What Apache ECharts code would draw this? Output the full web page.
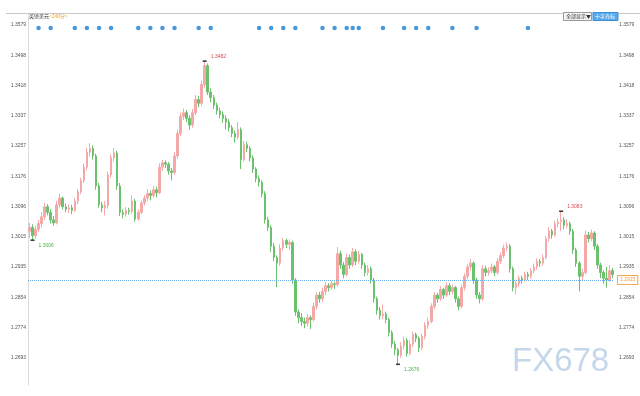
<!DOCTYPE html>
<html><head><meta charset="utf-8">
<script src="https://cdn.jsdelivr.net/npm/echarts@6/dist/echarts.min.js"></script>
<style>html,body{margin:0;padding:0;background:#fff}#c{width:640px;height:396px}</style>
</head><body><div id="c"></div>
<script>
// [open, close, low, high] for each 240-minute bar
const candles = [
[1.3030,1.3040,1.3012,1.3052],[1.3040,1.3018,1.3006,1.3048],[1.3018,1.3035,1.3010,1.3045],[1.3035,1.3050,1.3028,1.3060],
[1.3050,1.3068,1.3040,1.3080],[1.3068,1.3095,1.3060,1.3105],[1.3095,1.3080,1.3072,1.3102],[1.3080,1.3060,1.3050,1.3088],
[1.3060,1.3052,1.3045,1.3070],[1.3052,1.3100,1.3048,1.3110],[1.3100,1.3118,1.3092,1.3130],[1.3118,1.3095,1.3088,1.3122],
[1.3095,1.3088,1.3080,1.3104],[1.3088,1.3092,1.3078,1.3102],[1.3092,1.3085,1.3075,1.3100],[1.3085,1.3110,1.3080,1.3118],
[1.3110,1.3135,1.3102,1.3142],[1.3135,1.3165,1.3128,1.3172],[1.3165,1.3200,1.3158,1.3210],[1.3200,1.3240,1.3192,1.3252],
[1.3240,1.3250,1.3228,1.3264],[1.3250,1.3230,1.3220,1.3258],[1.3230,1.3150,1.3140,1.3236],[1.3150,1.3100,1.3092,1.3158],
[1.3100,1.3092,1.3080,1.3108],[1.3092,1.3098,1.3072,1.3110],[1.3098,1.3180,1.3090,1.3188],[1.3180,1.3225,1.3172,1.3234],
[1.3225,1.3238,1.3215,1.3251],[1.3238,1.3150,1.3140,1.3244],[1.3150,1.3080,1.3070,1.3158],[1.3080,1.3075,1.3064,1.3088],
[1.3075,1.3085,1.3068,1.3094],[1.3085,1.3082,1.3074,1.3092],[1.3082,1.3110,1.3076,1.3125],[1.3110,1.3062,1.3055,1.3116],
[1.3062,1.3080,1.3058,1.3088],[1.3080,1.3105,1.3075,1.3112],[1.3105,1.3118,1.3098,1.3126],[1.3118,1.3130,1.3110,1.3142],
[1.3130,1.3125,1.3112,1.3138],[1.3125,1.3140,1.3118,1.3150],[1.3140,1.3132,1.3120,1.3148],[1.3132,1.3200,1.3128,1.3210],
[1.3200,1.3212,1.3190,1.3220],[1.3212,1.3208,1.3198,1.3218],[1.3208,1.3190,1.3180,1.3214],[1.3190,1.3186,1.3165,1.3198],
[1.3186,1.3230,1.3180,1.3240],[1.3230,1.3290,1.3222,1.3300],[1.3290,1.3335,1.3282,1.3345],[1.3335,1.3345,1.3325,1.3356],
[1.3345,1.3330,1.3320,1.3352],[1.3330,1.3312,1.3300,1.3338],[1.3312,1.3345,1.3305,1.3355],[1.3345,1.3380,1.3338,1.3392],
[1.3380,1.3370,1.3360,1.3390],[1.3370,1.3420,1.3362,1.3430],[1.3420,1.3470,1.3412,1.3482],[1.3470,1.3400,1.3392,1.3476],
[1.3400,1.3385,1.3372,1.3410],[1.3385,1.3365,1.3355,1.3392],[1.3365,1.3350,1.3340,1.3372],[1.3350,1.3340,1.3330,1.3358],
[1.3340,1.3330,1.3318,1.3348],[1.3330,1.3320,1.3300,1.3338],[1.3320,1.3305,1.3295,1.3328],[1.3305,1.3290,1.3280,1.3312],
[1.3290,1.3280,1.3265,1.3298],[1.3280,1.3300,1.3275,1.3320],[1.3300,1.3220,1.3195,1.3306],[1.3220,1.3260,1.3215,1.3270],
[1.3260,1.3250,1.3240,1.3268],[1.3250,1.3225,1.3215,1.3256],[1.3225,1.3195,1.3185,1.3232],[1.3195,1.3170,1.3160,1.3200],
[1.3170,1.3160,1.3148,1.3178],[1.3160,1.3130,1.3120,1.3165],[1.3130,1.3060,1.3050,1.3136],[1.3060,1.3040,1.3030,1.3068],
[1.3040,1.2990,1.2975,1.3046],[1.2990,1.2960,1.2950,1.2998],[1.2960,1.2945,1.2881,1.2966],[1.2945,1.2985,1.2938,1.2995],
[1.2985,1.3005,1.2978,1.3012],[1.3005,1.2995,1.2985,1.3010],[1.2995,1.3000,1.2980,1.3008],[1.3000,1.2900,1.2890,1.3005],
[1.2900,1.2815,1.2805,1.2905],[1.2815,1.2800,1.2785,1.2822],[1.2800,1.2790,1.2778,1.2812],[1.2790,1.2785,1.2772,1.2800],
[1.2785,1.2800,1.2776,1.2810],[1.2800,1.2795,1.2770,1.2806],[1.2795,1.2830,1.2790,1.2840],[1.2830,1.2860,1.2822,1.2868],
[1.2860,1.2850,1.2840,1.2868],[1.2850,1.2870,1.2842,1.2880],[1.2870,1.2885,1.2860,1.2895],[1.2885,1.2880,1.2870,1.2892],
[1.2880,1.2890,1.2874,1.2898],[1.2890,1.2888,1.2876,1.2896],[1.2888,1.2970,1.2882,1.2988],[1.2970,1.2940,1.2930,1.2978],
[1.2940,1.2915,1.2905,1.2948],[1.2915,1.2960,1.2910,1.2970],[1.2960,1.2940,1.2930,1.2968],[1.2940,1.2975,1.2935,1.2985],
[1.2975,1.2950,1.2940,1.2982],[1.2950,1.2968,1.2944,1.2978],[1.2968,1.2940,1.2930,1.2972],[1.2940,1.2920,1.2910,1.2946],
[1.2920,1.2930,1.2912,1.2940],[1.2930,1.2900,1.2890,1.2936],[1.2900,1.2850,1.2840,1.2906],[1.2850,1.2820,1.2808,1.2856],
[1.2820,1.2805,1.2795,1.2828],[1.2805,1.2810,1.2796,1.2835],[1.2810,1.2795,1.2785,1.2816],[1.2795,1.2760,1.2750,1.2800],
[1.2760,1.2730,1.2720,1.2766],[1.2730,1.2715,1.2700,1.2738],[1.2715,1.2700,1.2676,1.2720],[1.2700,1.2725,1.2694,1.2735],
[1.2725,1.2740,1.2715,1.2750],[1.2740,1.2705,1.2696,1.2746],[1.2705,1.2730,1.2700,1.2740],[1.2730,1.2755,1.2722,1.2762],
[1.2755,1.2745,1.2735,1.2760],[1.2745,1.2720,1.2708,1.2750],[1.2720,1.2750,1.2714,1.2758],[1.2750,1.2780,1.2742,1.2788],
[1.2780,1.2790,1.2770,1.2800],[1.2790,1.2830,1.2785,1.2838],[1.2830,1.2860,1.2822,1.2868],[1.2860,1.2850,1.2840,1.2866],
[1.2850,1.2875,1.2845,1.2884],[1.2875,1.2860,1.2850,1.2880],[1.2860,1.2885,1.2855,1.2893],[1.2885,1.2870,1.2860,1.2892],
[1.2870,1.2880,1.2862,1.2888],[1.2880,1.2850,1.2840,1.2884],[1.2850,1.2830,1.2820,1.2856],[1.2830,1.2880,1.2825,1.2888],
[1.2880,1.2910,1.2872,1.2918],[1.2910,1.2935,1.2902,1.2942],[1.2935,1.2945,1.2925,1.2955],[1.2945,1.2900,1.2890,1.2950],
[1.2900,1.2860,1.2850,1.2906],[1.2860,1.2850,1.2838,1.2868],[1.2850,1.2930,1.2845,1.2940],[1.2930,1.2920,1.2910,1.2938],
[1.2920,1.2925,1.2912,1.2934],[1.2925,1.2935,1.2918,1.2944],[1.2935,1.2920,1.2910,1.2940],[1.2920,1.2950,1.2914,1.2958],
[1.2950,1.2965,1.2942,1.2974],[1.2965,1.2985,1.2958,1.2994],[1.2985,1.2990,1.2976,1.3000],[1.2990,1.2930,1.2920,1.2996],
[1.2930,1.2880,1.2870,1.2936],[1.2880,1.2890,1.2862,1.2898],[1.2890,1.2905,1.2882,1.2912],[1.2905,1.2900,1.2890,1.2912],
[1.2900,1.2915,1.2894,1.2922],[1.2915,1.2910,1.2900,1.2922],[1.2910,1.2925,1.2904,1.2932],[1.2925,1.2935,1.2918,1.2944],
[1.2935,1.2950,1.2928,1.2958],[1.2950,1.2945,1.2935,1.2956],[1.2945,1.2960,1.2938,1.2968],[1.2960,1.3010,1.2955,1.3018],
[1.3010,1.3030,1.3002,1.3040],[1.3030,1.3020,1.3010,1.3036],[1.3020,1.3050,1.3015,1.3058],[1.3050,1.3055,1.3040,1.3064],
[1.3055,1.3060,1.3030,1.3083],[1.3060,1.3045,1.3035,1.3068],[1.3045,1.3050,1.3038,1.3062],[1.3050,1.3030,1.3020,1.3056],
[1.3030,1.2980,1.2970,1.3036],[1.2980,1.2945,1.2935,1.2986],[1.2945,1.2910,1.2870,1.2950],[1.2910,1.2920,1.2900,1.2930],
[1.2920,1.3020,1.2915,1.3032],[1.3020,1.3010,1.3000,1.3028],[1.3010,1.3025,1.3004,1.3034],[1.3025,1.2990,1.2980,1.3030],
[1.2990,1.2940,1.2930,1.2996],[1.2940,1.2920,1.2905,1.2946],[1.2920,1.2905,1.2890,1.2926],[1.2905,1.2900,1.2880,1.2935],
[1.2900,1.2925,1.2895,1.2940],[1.2925,1.2915,1.2905,1.2932]
];
const categories = candles.map((_, i) => 'K' + i);
const yTicks = [1.2693,1.2774,1.2854,1.2935,1.3015,1.3096,1.3176,1.3257,1.3337,1.3418,1.3498,1.3579];
const lastPrice = 1.2915;
// extreme-value annotations: [bar index, price, kind]
const extremes = [[58,1.3482,'high'],[1,1.3006,'low'],[122,1.2676,'low'],[176,1.3083,'high']];
// bars that carry an economic-event marker
const eventBars = [3,7,15,19,23,27,36,40,44,48,56,60,76,80,84,88,97,101,105,107,109,117,124,128,132,140,148,165];
const eventLevel = 1.3570;
const title = '英镑美元';
const period = '<240分>';

const UP = '#f5a8a8', DOWN = '#6cc16c';
const chart = echarts.init(document.getElementById('c'), null, {renderer: 'canvas'});
const axisFont = {fontSize: 5, color: '#555', fontFamily: 'Liberation Sans, Arial, sans-serif'};
chart.setOption({
  animation: false,
  grid: {left: 28, right: 26, top: 13, bottom: 11},
  xAxis: {type: 'category', data: categories, show: false, boundaryGap: true},
  yAxis: [
    {type: 'value', min: 1.2621, max: 1.3610, position: 'left',
     axisLine: {show: true, lineStyle: {color: '#cfd6de', type: 'dotted', width: 1}},
     axisTick: {show: false}, splitLine: {show: false},
     axisLabel: Object.assign({customValues: yTicks, margin: 2, formatter: v => v.toFixed(4)}, axisFont)},
    {type: 'value', min: 1.2621, max: 1.3610, position: 'right',
     axisLine: {show: false}, axisTick: {show: false}, splitLine: {show: false},
     axisLabel: Object.assign({customValues: yTicks, margin: 5, formatter: v => v.toFixed(4)}, axisFont)}
  ],
  series: [
    {type: 'candlestick', data: candles, barWidth: 2,
     itemStyle: {color: UP, color0: DOWN, borderColor: UP, borderColor0: DOWN, borderWidth: 1},
     markPoint: {
       symbol: 'rect', symbolSize: [4, 1.5], itemStyle: {color: '#333'},
       data: extremes.map(e => ({coord: [e[0], e[1]], value: e[1],
         label: {show: true, formatter: e[1].toFixed(4), position: 'right', offset: [-1, e[2] === 'high' ? -5 : 5],
           fontSize: 5, color: e[2] === 'high' ? '#e0484d' : '#4caf50', fontFamily: 'Liberation Sans, Arial'}}))
     },
     markLine: {
       symbol: 'none', silent: true,
       lineStyle: {color: '#6aaeea', type: 'dotted', width: 1},
       label: {show: true, position: 'end', distance: 4, formatter: lastPrice.toFixed(4), fontSize: 5,
         color: '#f39c32', backgroundColor: '#fff', borderColor: '#f5a74a', borderWidth: 1, padding: [2, 2, 1, 2],
         fontFamily: 'Liberation Sans, Arial'},
       data: [{yAxis: lastPrice}]
     }},
    {type: 'scatter', data: eventBars.map(i => [i, eventLevel]), symbolSize: 4.5,
     itemStyle: {color: '#1c7ed0'}, silent: true}
  ],
  graphic: [
    {type: 'line', shape: {x1: 6, y1: 13.5, x2: 640, y2: 13.5}, style: {stroke: '#c8c8c8', lineWidth: 1}},
    {type: 'text', left: 29, top: 14, style: {
      text: '{a|' + title + '}{b|' + period + '}',
      rich: {a: {fontSize: 5, fill: '#333', fontFamily: 'Noto Sans CJK SC'}, b: {fontSize: 5, fill: '#f5a623', fontFamily: 'Noto Sans CJK SC'}}}},
    {type: 'rect', shape: {x: 563.5, y: 12.5, width: 28, height: 8}, style: {fill: '#f4f4f4', stroke: '#999', lineWidth: 1}},
    {type: 'text', x: 566, y: 16.5, style: {text: '全部显示▼', fontSize: 5, fill: '#333', verticalAlign: 'middle', fontFamily: 'Noto Sans CJK SC'}},
    {type: 'rect', shape: {x: 593, y: 12.5, width: 25, height: 8}, style: {fill: '#5aa9ea', stroke: '#3d8fd6', lineWidth: 1}},
    {type: 'text', x: 595, y: 16.5, style: {text: '十字光标', fontSize: 5, fill: '#fff', verticalAlign: 'middle', fontFamily: 'Noto Sans CJK SC'}},
    {type: 'text', x: 512, y: 345, style: {text: 'FX678', fontSize: 33, fill: '#c6d7eb', fontFamily: 'Liberation Sans, Arial',
      textShadowColor: 'rgba(120,130,150,0.45)', textShadowOffsetX: 1, textShadowOffsetY: 1, textShadowBlur: 0}}
  ]
});
</script></body></html>
